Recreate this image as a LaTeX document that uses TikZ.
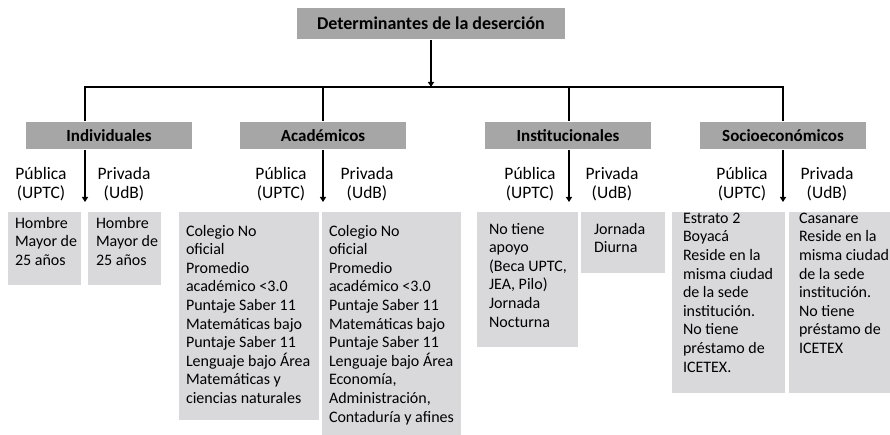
\documentclass[tikz,border=0pt]{standalone}
\usepackage{fontspec}
\setmainfont{Carlito}
\usetikzlibrary{arrows.meta}
\definecolor{headgray}{RGB}{166,166,166}
\definecolor{leafgray}{RGB}{217,217,219}
\begin{document}
\begin{tikzpicture}[
  x = 1pt, y = -1pt,
  line width = 2pt,
  head/.style={fill=headgray, inner sep=0pt, font=\bfseries\fontsize{18}{20}\selectfont},
  cat/.style={head, minimum width=166pt, minimum height=27pt, font=\bfseries\fontsize{17}{20}\selectfont},
  leaf/.style={fill=leafgray, anchor=north west, inner sep=0pt},
  leaftext/.style={anchor=north west, inner sep=0pt, align=left, font=\fontsize{16}{18.6}\selectfont},
  branch/.style={align=center, inner sep=0pt, font=\fontsize{17.5}{18.6}\selectfont},
  down/.style={-{Triangle[length=5pt, width=6pt]}}]
\useasboundingbox (0,0) rectangle (890,435);

\node[head, minimum width=268pt, minimum height=31pt] (root) at (431,23.5) {Determinantes de la deserción};

\node[cat] (ind) at (109,135.5) {Individuales};
\node[cat] (aca) at (323,135.5) {Académicos};
\node[cat] (ins) at (568,135.5) {Institucionales};
\node[cat] (soc) at (783,135.5) {Socioeconómicos};

\coordinate (d1) at (85,87);
\coordinate (d2) at (323,87);
\coordinate (d3) at (569,87);
\coordinate (d4) at (783,87);
\coordinate (tip) at (0,202);

\draw[down] (root.south) -- (root.south |- d1);
\draw (d1 |- ind.north) -- (d1) -- (d4) -- (d4 |- soc.north);
\draw (d2) -- (d2 |- aca.north);
\draw (d3) -- (d3 |- ins.north);

\draw[down] (d1 |- ind.south) -- (d1 |- tip);
\draw[down] (d2 |- aca.south) -- (d2 |- tip);
\draw[down] (d3 |- ins.south) -- (d3 |- tip);
\draw[down] (d4 |- soc.south) -- (d4 |- tip);

\node[branch] (indpubl) at (41,184) {Pública\\(UPTC)};
\node[branch] (indpril) at (124,184) {Privada\\(UdB)};
\node[branch] (acapubl) at (281,184) {Pública\\(UPTC)};
\node[branch] (acapril) at (367,184) {Privada\\(UdB)};
\node[branch] (inspubl) at (530,184) {Pública\\(UPTC)};
\node[branch] (inspril) at (612,184) {Privada\\(UdB)};
\node[branch] (socpubl) at (742,184) {Pública\\(UPTC)};
\node[branch] (socpril) at (827,184) {Privada\\(UdB)};

\node[leaf, minimum width=73pt, minimum height=73pt] (indpub) at (7,211) {};
\node[leaf, minimum width=73pt, minimum height=73pt] (indpri) at (87,211) {};
\node[leaf, minimum width=140pt, minimum height=208pt] (acapub) at (178,211) {};
\node[leaf, minimum width=139pt, minimum height=223pt] (acapri) at (321,211) {};
\node[leaf, minimum width=101pt, minimum height=135pt] (inspub) at (476,211) {};
\node[leaf, minimum width=84pt, minimum height=61pt] (inspri) at (580,211) {};
\node[leaf, minimum width=113pt, minimum height=181pt] (socpub) at (671,211) {};
\node[leaf, minimum width=102pt, minimum height=181pt] (socpri) at (788,211) {};

\node[leaftext] (indpubt) at ([shift={(7,5)}]indpub.north west) {Hombre\\Mayor de\\25 años};
\node[leaftext] (indprit) at ([shift={(8,5)}]indpri.north west) {Hombre\\Mayor de\\25 años};
\node[leaftext] (acapubt) at ([shift={(7,13)}]acapub.north west) {Colegio No\\oficial\\Promedio\\académico <3.0\\Puntaje Saber 11\\Matemáticas bajo\\Puntaje Saber 11\\Lenguaje bajo Área\\Matemáticas y\\ciencias naturales};
\node[leaftext] (acaprit) at ([shift={(7,13)}]acapri.north west) {Colegio No\\oficial\\Promedio\\académico <3.0\\Puntaje Saber 11\\Matemáticas bajo\\Puntaje Saber 11\\Lenguaje bajo Área\\Economía,\\Administración,\\Contaduría y afines};
\node[leaftext] (inspubt) at ([shift={(12,11)}]inspub.north west) {No tiene\\apoyo\\(Beca UPTC,\\JEA, Pilo)\\Jornada\\Nocturna};
\node[leaftext] (insprit) at ([shift={(13,11)}]inspri.north west) {Jornada\\Diurna};
\node[leaftext] (socpubt) at ([shift={(11,1)}]socpub.north west) {Estrato 2\\Boyacá\\Reside en la\\misma ciudad\\de la sede\\institución.\\No tiene\\préstamo de\\ICETEX.};
\node[leaftext] (socprit) at ([shift={(10,1)}]socpri.north west) {Casanare\\Reside en la\\misma ciudad\\de la sede\\institución.\\No tiene\\préstamo de\\ICETEX};
\end{tikzpicture}
\end{document}
